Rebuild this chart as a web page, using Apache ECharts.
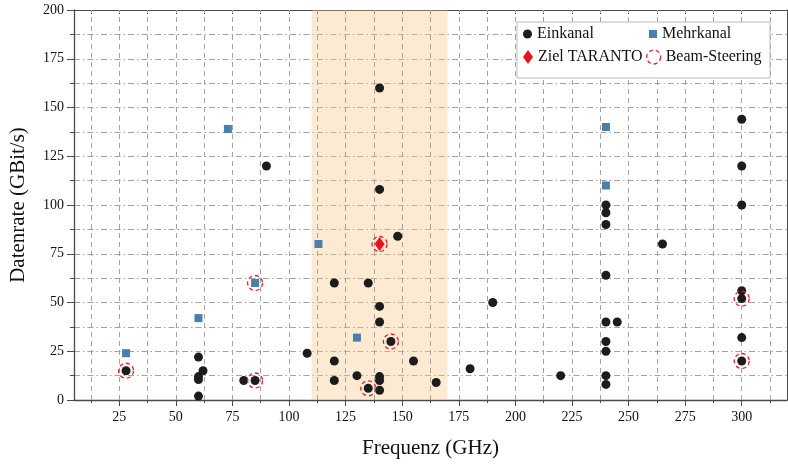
<!DOCTYPE html>
<html>
<head>
<meta charset="utf-8">
<script src="https://cdn.jsdelivr.net/npm/echarts@6/dist/echarts.min.js"></script>
<style>
  html, body { margin: 0; padding: 0; background: #fff; }
  #chart { width: 788px; height: 464px; }
</style>
</head>
<body>
<div id="chart"></div>
<script>
var myChart = echarts.init(document.getElementById("chart"));

// Frequenz (GHz), Datenrate (GBit/s)
var einkanal = [
    [28, 15], [60, 22], [62, 15], [60, 12], [60, 10.5], [60, 2],
    [80, 10], [85, 10], [90, 120], [108, 24],
    [120, 60], [120, 20], [120, 10], [130, 12.5], [135, 60], [135, 6],
    [140, 160], [140, 108], [140, 48], [140, 40], [140, 12], [140, 10], [140, 5],
    [145, 30], [148, 84], [155, 20], [165, 9], [180, 16], [190, 50], [220, 12.5],
    [240, 100], [240, 96], [240, 90], [240, 64], [240, 40], [240, 30], [240, 25],
    [240, 12.5], [240, 8], [245, 40], [265, 80],
    [300, 144], [300, 120], [300, 100], [300, 56], [300, 52], [300, 32], [300, 20]
];
var mehrkanal = [[28, 24], [60, 42], [73, 139], [85, 60], [113, 80], [130, 32], [240, 140], [240, 110]];
var zielTaranto = [[140, 80]];
var beamSteering = [[28, 15], [85, 60], [85, 10], [140, 80], [145, 30], [135, 6], [300, 52], [300, 20]];
var band = [110, 170];

var xMajor = [25, 50, 75, 100, 125, 150, 175, 200, 225, 250, 275, 300];
var xMinor = [12.5, 37.5, 62.5, 87.5, 112.5, 137.5, 162.5, 187.5, 212.5, 237.5, 262.5, 287.5, 312.5];
var xAll = xMinor.concat(xMajor);

var serif = "Liberation Serif";
var gridColor = "#a3a3a3";
var axisColor = "#4a4a4a";
var red = "#e8202a";

function legendAt(name, left, top, w, h, extra) {
    var lg = {
        data: [name],
        left: left, top: top,
        itemWidth: w, itemHeight: h,
        padding: 0,
        selectedMode: false,
        z: 7,
        textStyle: { fontFamily: serif, fontSize: 16, color: "#111", lineHeight: 16 }
    };
    if (extra) lg.itemStyle = extra;
    return lg;
}

option = {
    animation: false,
    grid: { left: 67, right: 1, top: 10, bottom: 63 },
    legend: [
        legendAt("Einkanal", 523, 26, 9, 9),
        legendAt("Ziel TARANTO", 523, 49, 10, 14),
        legendAt("Mehrkanal", 649, 26, 8, 8),
        legendAt("Beam-Steering", 646, 49, 14, 14, {
            color: "rgba(0,0,0,0)", borderColor: red, borderWidth: 1.3, borderType: [4, 3]
        })
    ],
    graphic: [{
        type: "rect",
        z: 6,
        shape: { x: 517, y: 22, width: 253, height: 56 },
        style: { fill: "#fff", stroke: "#bdbdbd", lineWidth: 1 }
    }],
    xAxis: [{
        type: "value",
        min: 5, max: 320,
        name: "Frequenz (GHz)",
        nameLocation: "middle",
        nameGap: 38,
        nameTextStyle: { fontFamily: serif, fontSize: 21, color: "#111" },
        axisLine: { lineStyle: { color: axisColor, width: 1.3 } },
        axisTick: { customValues: xMajor, length: 6, lineStyle: { color: axisColor } },
        axisLabel: { customValues: xMajor, fontFamily: serif, fontSize: 14, color: "#111", margin: 10 },
        splitLine: { show: false }
    }, {
        type: "value",
        min: 5, max: 320,
        position: "bottom",
        axisLine: { show: false },
        axisTick: { customValues: xMinor, length: 3, lineStyle: { color: axisColor } },
        axisLabel: { show: false },
        splitLine: { show: false }
    }, {
        type: "value",
        min: 5, max: 320,
        position: "top",
        axisLine: { lineStyle: { color: axisColor, width: 1 } },
        axisTick: { customValues: xAll, inside: true, length: 4, lineStyle: { color: axisColor } },
        axisLabel: { show: false },
        splitLine: { show: false }
    }],
    yAxis: [{
        type: "value",
        min: 0, max: 200, interval: 25,
        name: "Datenrate (GBit/s)",
        nameLocation: "middle",
        nameGap: 45,
        nameTextStyle: { fontFamily: serif, fontSize: 21, color: "#111" },
        axisLine: { show: true, lineStyle: { color: axisColor, width: 1.3 } },
        axisTick: { show: true, length: 7, lineStyle: { color: axisColor } },
        minorTick: { show: true, splitNumber: 2, length: 4, lineStyle: { color: axisColor } },
        axisLabel: { fontFamily: serif, fontSize: 14, color: "#111", margin: 10 },
        splitLine: { show: true, lineStyle: { color: gridColor, type: [6, 3, 1.5, 3] } },
        minorSplitLine: { show: true, lineStyle: { color: gridColor, type: [6, 3, 1.5, 3] } }
    }, {
        type: "value",
        min: 0, max: 200,
        position: "right",
        axisLine: { show: true, lineStyle: { color: axisColor, width: 1 } },
        axisTick: { show: false },
        axisLabel: { show: false },
        splitLine: { show: false }
    }],
    series: [
        {
            name: "band",
            type: "line",
            data: [],
            z: 1,
            silent: true,
            markArea: {
                silent: true,
                itemStyle: { color: "rgba(248, 196, 130, 0.35)" },
                data: [[{ xAxis: band[0] }, { xAxis: band[1] }]]
            },
            markLine: {
                silent: true,
                symbol: "none",
                label: { show: false },
                lineStyle: { color: gridColor, type: [5, 4], width: 1 },
                data: xAll.map(function (v) { return { xAxis: v }; })
            }
        },
        {
            name: "Einkanal",
            type: "scatter",
            z: 10,
            symbol: "circle",
            symbolSize: 9,
            itemStyle: { color: "#1c1c1c", opacity: 1 },
            data: einkanal
        },
        {
            name: "Mehrkanal",
            type: "scatter",
            z: 10,
            symbol: "rect",
            symbolSize: 8,
            itemStyle: { color: "#4a7fab", opacity: 1 },
            data: mehrkanal
        },
        {
            name: "Ziel TARANTO",
            type: "scatter",
            z: 11,
            symbol: "diamond",
            symbolSize: [10, 14],
            itemStyle: { color: "#e8141c", opacity: 1 },
            data: zielTaranto
        },
        {
            name: "Beam-Steering",
            type: "scatter",
            z: 12,
            symbol: "circle",
            symbolSize: 15,
            itemStyle: {
                color: "rgba(0,0,0,0)",
                borderColor: red,
                borderWidth: 1.3,
                borderType: [4, 3],
                opacity: 1
            },
            data: beamSteering
        }
    ]
};
myChart.setOption(option);
</script>
</body>
</html>
